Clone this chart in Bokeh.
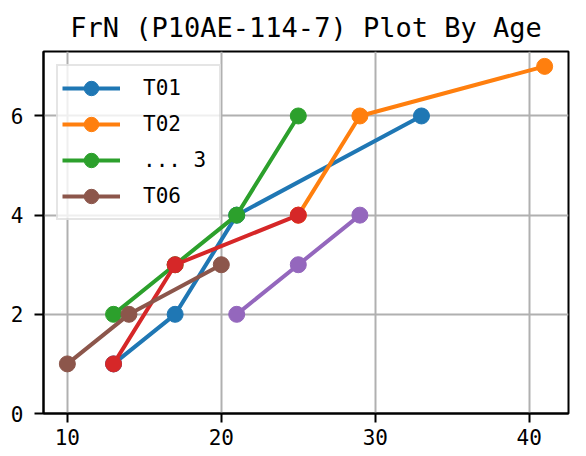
from bokeh.plotting import figure
from bokeh.models import Range1d, Legend, LegendItem, FixedTicker
from bokeh.embed import file_html
from bokeh.resources import INLINE

title_text = "FrN (P10AE-114-7) Plot By Age"
x_ticks = [10, 20, 30, 40]
y_ticks = [0, 2, 4, 6]

series_names = ["T01", "T02", "... 3", "T04", "T05", "T06"]
series_colors = ["#1f77b4", "#ff7f0e", "#2ca02c", "#d62728", "#9467bd", "#8c564b"]
in_legend = [True, True, True, False, False, True]

t01_x = [13, 17, 21, 33]
t01_y = [1, 2, 4, 6]
t02_x = [25, 29, 41]
t02_y = [4, 6, 7]
t03_x = [13, 17, 21, 25]
t03_y = [2, 3, 4, 6]
t04_x = [13, 17, 25]
t04_y = [1, 3, 4]
t05_x = [21, 25, 29]
t05_y = [2, 3, 4]
t06_x = [10, 14, 20]
t06_y = [1, 2, 3]

xs = [t01_x, t02_x, t03_x, t04_x, t05_x, t06_x]
ys = [t01_y, t02_y, t03_y, t04_y, t05_y, t06_y]

FONT = "DejaVu Sans Mono"

p = figure(
    width=578, height=448,
    frame_width=525, frame_height=362,
    min_border_left=43, min_border_right=10,
    min_border_top=51, min_border_bottom=35,
    x_range=Range1d(8.45, 42.55), y_range=Range1d(0, 7.3),
    output_backend="svg", toolbar_location=None,
    title=title_text,
)
p.title.align = "center"
p.title.text_font = FONT
p.title.text_font_size = "27px"
p.title.text_font_style = "normal"
p.title.text_color = "black"
p.title.standoff = 18

p.outline_line_color = "black"
p.outline_line_width = 2
p.outline_line_alpha = 1

for ax in (p.xaxis, p.yaxis):
    ax.axis_line_color = "black"
    ax.axis_line_width = 2
    ax.major_tick_line_color = "black"
    ax.major_tick_line_width = 2
    ax.major_tick_out = 9
    ax.major_tick_in = 0
    ax.minor_tick_line_color = None
    ax.major_label_text_font = FONT
    ax.major_label_text_font_size = "21px"
    ax.major_label_text_color = "black"

p.xaxis.ticker = FixedTicker(ticks=x_ticks)
p.yaxis.ticker = FixedTicker(ticks=y_ticks)
p.xaxis.major_label_standoff = 6
p.yaxis.major_label_standoff = 11

p.xgrid.ticker = FixedTicker(ticks=x_ticks)
p.ygrid.ticker = FixedTicker(ticks=y_ticks)
for g in (p.xgrid, p.ygrid):
    g.grid_line_color = "#b0b0b0"
    g.grid_line_width = 2

items = []
for name, color, show, x, y in zip(series_names, series_colors, in_legend, xs, ys):
    lr = p.line(x, y, line_color=color, line_width=4)
    sr = p.scatter(x, y, size=16, fill_color=color, line_color=color)
    if show:
        items.append(LegendItem(label=name, renderers=[lr, sr]))

legend = Legend(
    items=items, location="top_left", margin=13,
    padding=4, spacing=0, glyph_width=58, glyph_height=36,
    label_height=36, label_standoff=23, label_width=72,
    label_text_font=FONT, label_text_font_size="21px",
    label_text_color="black",
    background_fill_alpha=0.8, border_line_color="#cccccc",
    border_line_width=2,
)
p.add_layout(legend, "center")

open("out.html", "w").write(file_html(p, INLINE))
